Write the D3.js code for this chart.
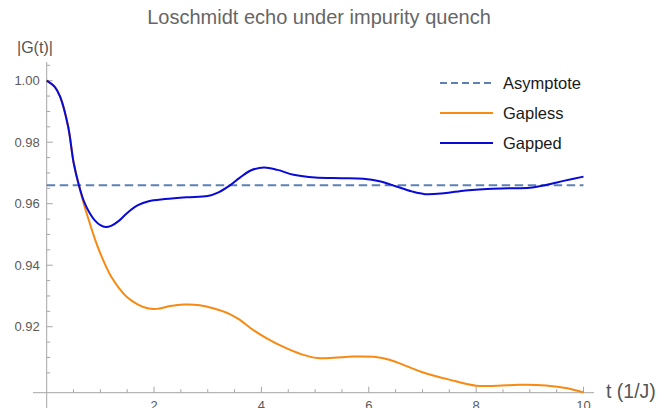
<!DOCTYPE html>
<html>
<head>
<meta charset="utf-8">
<script src="https://cdn.jsdelivr.net/npm/d3@7"></script>
<style>
  body { margin: 0; background: #fff; }
  svg { display: block; font-family: 'Liberation Sans', Arial, sans-serif; }
</style>
</head>
<body>
<div id="chart"></div>
<script>
// curves
const gappedT = [0, 0.15, 0.25, 0.4, 0.5, 0.6, 0.7, 0.8, 0.9, 1.0, 1.1, 1.2, 1.35, 1.5, 1.7, 1.9, 2.2, 2.6, 3.0, 3.2, 3.4, 3.6, 3.8, 4.05, 4.3, 4.6, 5.0, 5.5, 5.9, 6.2, 6.5, 6.8, 7.05, 7.4, 7.8, 8.2, 8.6, 9.0, 9.3, 9.65, 10]
const gappedG = [1.000, 0.998, 0.9948, 0.985, 0.9735, 0.966, 0.9605, 0.957, 0.9545, 0.953, 0.9524, 0.9528, 0.9545, 0.957, 0.9595, 0.9608, 0.9615, 0.9621, 0.9625, 0.9637, 0.9658, 0.9685, 0.9708, 0.9718, 0.971, 0.9694, 0.9685, 0.9683, 0.9681, 0.9673, 0.9657, 0.964, 0.9631, 0.9634, 0.9643, 0.9648, 0.965, 0.9652, 0.9661, 0.9675, 0.9688]

const gaplessT = [0, 0.15, 0.25, 0.4, 0.5, 0.6, 0.7, 0.8, 0.9, 1.0, 1.1, 1.2, 1.35, 1.5, 1.7, 1.9, 2.05, 2.3, 2.55, 2.85, 3.1, 3.4, 3.6, 3.8, 4.1, 4.4, 4.75, 5.05, 5.35, 5.7, 6.1, 6.4, 6.7, 7.0, 7.5, 8.0, 8.4, 8.8, 9.3, 9.7, 10]
const gaplessG = [1.000, 0.998, 0.9948, 0.985, 0.9735, 0.966, 0.9594, 0.9538, 0.9484, 0.9438, 0.9398, 0.9363, 0.9325, 0.9296, 0.9272, 0.9259, 0.9258, 0.9267, 0.9272, 0.927, 0.926, 0.9242, 0.9222, 0.9195, 0.9162, 0.9135, 0.911, 0.9098, 0.9099, 0.9103, 0.9102, 0.9092, 0.9072, 0.9052, 0.9028, 0.9008, 0.9008, 0.9011, 0.9009, 0.900, 0.8986]

const asymptote = 0.966

const xTicks = [2, 4, 6, 8, 10]
const yTicks = [0.92, 0.94, 0.96, 0.98, 1.00]

const legendNames = ['Asymptote', 'Gapless', 'Gapped']

const cfg = {
    w: 671,
    h: 408,
    axisColor: '#a6a6a6',
    labelColor: '#5a5a5a',
    asymColor: '#5e81b5',
    gaplessColor: '#f68a12',
    gappedColor: '#0a0ad6'
}

const svg = d3.select('#chart')
    .append('svg')
    .attr('width', cfg.w)
    .attr('height', cfg.h)

const x = d3.scaleLinear().domain([0, 10]).range([46.7, 583.5])
const y = d3.scaleLinear().domain([0.89854, 1.00543]).range([392.7, 64])

// axes, Mathematica style: ticks point into the plot
const gx = svg.append('g').attr('transform', `translate(0, ${y(0.89854)})`)
gx.append('line')
    .attr('x1', 33).attr('x2', 594)
    .attr('stroke', cfg.axisColor)
gx.selectAll('.minor')
    .data(d3.range(0.5, 10.01, 0.5).filter(d => d % 2 !== 0))
    .enter().append('line')
    .attr('x1', d => x(d)).attr('x2', d => x(d))
    .attr('y1', 0).attr('y2', -3.5)
    .attr('stroke', cfg.axisColor)
gx.selectAll('.major')
    .data(xTicks)
    .enter().append('line')
    .attr('x1', d => x(d)).attr('x2', d => x(d))
    .attr('y1', 0).attr('y2', -6)
    .attr('stroke', cfg.axisColor)
gx.selectAll('.lbl')
    .data(xTicks)
    .enter().append('text')
    .attr('x', d => x(d))
    .attr('y', 17)
    .attr('text-anchor', 'middle')
    .attr('font-size', 13)
    .attr('fill', cfg.labelColor)
    .text(d => d)

const gy = svg.append('g').attr('transform', `translate(${x(0)}, 0)`)
gy.append('line')
    .attr('y1', 62).attr('y2', 408)
    .attr('stroke', cfg.axisColor)
gy.selectAll('.minor')
    .data(d3.range(0.900, 1.0051, 0.005).filter(d => Math.round(d * 1000) % 20 !== 0))
    .enter().append('line')
    .attr('y1', d => y(d)).attr('y2', d => y(d))
    .attr('x1', 0).attr('x2', 3.5)
    .attr('stroke', cfg.axisColor)
gy.selectAll('.major')
    .data(yTicks)
    .enter().append('line')
    .attr('y1', d => y(d)).attr('y2', d => y(d))
    .attr('x1', 0).attr('x2', 6)
    .attr('stroke', cfg.axisColor)
gy.selectAll('.lbl')
    .data(yTicks)
    .enter().append('text')
    .attr('x', -7)
    .attr('y', d => y(d))
    .attr('dy', '0.35em')
    .attr('text-anchor', 'end')
    .attr('font-size', 13)
    .attr('fill', cfg.labelColor)
    .text(d => d3.format('.2f')(d))

// asymptote
svg.append('line')
    .attr('x1', x(0)).attr('x2', x(10))
    .attr('y1', y(asymptote)).attr('y2', y(asymptote))
    .attr('stroke', cfg.asymColor)
    .attr('stroke-width', 2)
    .attr('stroke-dasharray', '8.5,4.5')

const line = d3.line()
    .x(d => x(d[0]))
    .y(d => y(d[1]))
    .curve(d3.curveCatmullRom.alpha(0.5))

svg.append('path')
    .attr('d', line(d3.zip(gaplessT, gaplessG)))
    .attr('fill', 'none')
    .attr('stroke', cfg.gaplessColor)
    .attr('stroke-width', 2)

svg.append('path')
    .attr('d', line(d3.zip(gappedT, gappedG)))
    .attr('fill', 'none')
    .attr('stroke', cfg.gappedColor)
    .attr('stroke-width', 2)

// labels
svg.append('text')
    .attr('x', 319).attr('y', 24)
    .attr('text-anchor', 'middle')
    .attr('font-size', 20)
    .attr('fill', '#666')
    .text('Loschmidt echo under impurity quench')

svg.append('text')
    .attr('x', 17).attr('y', 53)
    .attr('font-size', 16)
    .attr('fill', '#555')
    .text('|G(t)|')

svg.append('text')
    .attr('x', 606).attr('y', 398)
    .attr('font-size', 19.5)
    .attr('fill', '#555')
    .text('t (1/J)')

// legend
const legendColors = [cfg.asymColor, cfg.gaplessColor, cfg.gappedColor]
const legend = svg.selectAll('.legend')
    .data(legendNames)
    .enter().append('g')
    .attr('transform', (d, i) => `translate(440, ${83 + i * 30})`)
legend.append('line')
    .attr('x1', 0).attr('x2', 53)
    .attr('stroke', (d, i) => legendColors[i])
    .attr('stroke-width', 2)
    .attr('stroke-dasharray', (d, i) => i === 0 ? '7,4' : null)
legend.append('text')
    .attr('x', 63)
    .attr('dy', '0.35em')
    .attr('font-size', 16.5)
    .attr('fill', '#1a1a1a')
    .text(d => d)
</script>
</body>
</html>
